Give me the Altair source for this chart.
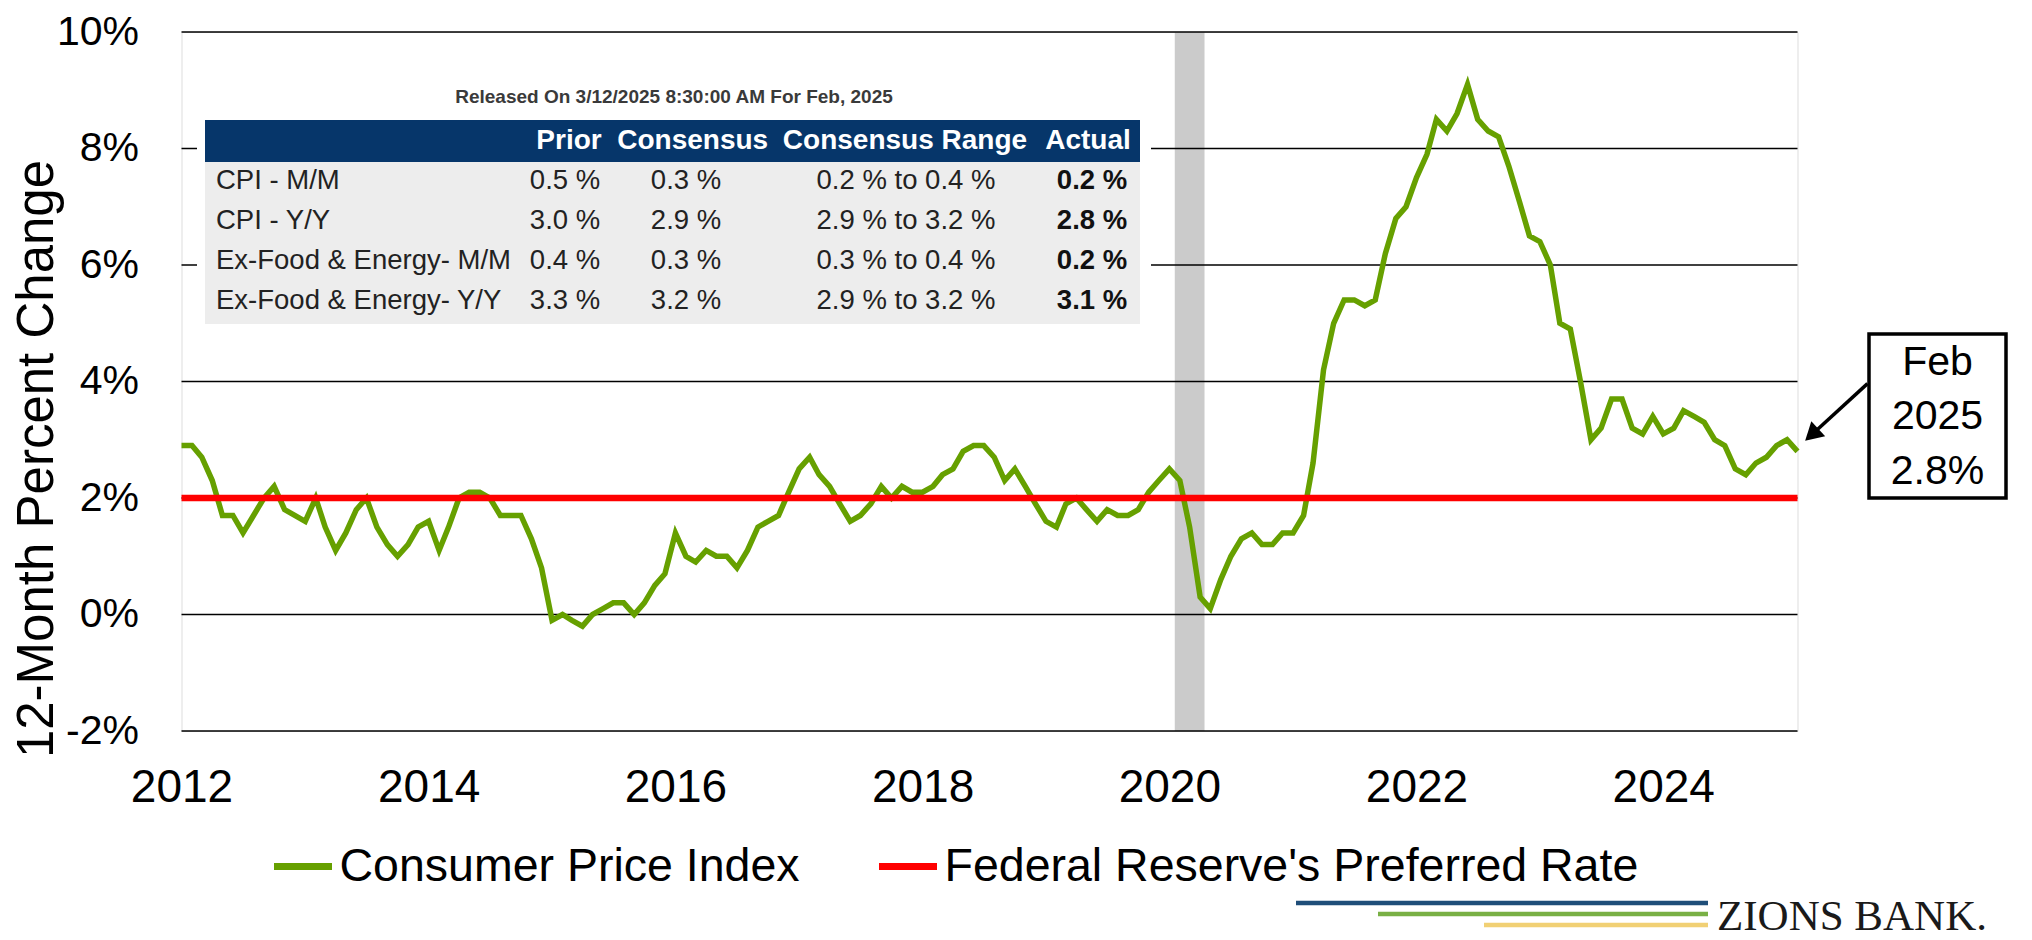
import altair as alt
import pandas as pd

# ---------------- data ----------------
months = pd.date_range("2012-01-01", "2025-02-01", freq="MS").strftime("%Y-%m-%d").tolist()

cpi_2012 = [2.9, 2.9, 2.7, 2.3, 1.7, 1.7, 1.4, 1.7, 2.0, 2.2, 1.8, 1.7]
cpi_2013 = [1.6, 2.0, 1.5, 1.1, 1.4, 1.8, 2.0, 1.5, 1.2, 1.0, 1.2, 1.5]
cpi_2014 = [1.6, 1.1, 1.5, 2.0, 2.1, 2.1, 2.0, 1.7, 1.7, 1.7, 1.3, 0.8]
cpi_2015 = [-0.1, 0.0, -0.1, -0.2, 0.0, 0.1, 0.2, 0.2, 0.0, 0.2, 0.5, 0.7]
cpi_2016 = [1.4, 1.0, 0.9, 1.1, 1.0, 1.0, 0.8, 1.1, 1.5, 1.6, 1.7, 2.1]
cpi_2017 = [2.5, 2.7, 2.4, 2.2, 1.9, 1.6, 1.7, 1.9, 2.2, 2.0, 2.2, 2.1]
cpi_2018 = [2.1, 2.2, 2.4, 2.5, 2.8, 2.9, 2.9, 2.7, 2.3, 2.5, 2.2, 1.9]
cpi_2019 = [1.6, 1.5, 1.9, 2.0, 1.8, 1.6, 1.8, 1.7, 1.7, 1.8, 2.1, 2.3]
cpi_2020 = [2.5, 2.3, 1.5, 0.3, 0.1, 0.6, 1.0, 1.3, 1.4, 1.2, 1.2, 1.4]
cpi_2021 = [1.4, 1.7, 2.6, 4.2, 5.0, 5.4, 5.4, 5.3, 5.4, 6.2, 6.8, 7.0]
cpi_2022 = [7.5, 7.9, 8.5, 8.3, 8.6, 9.1, 8.5, 8.3, 8.2, 7.7, 7.1, 6.5]
cpi_2023 = [6.4, 6.0, 5.0, 4.9, 4.0, 3.0, 3.2, 3.7, 3.7, 3.2, 3.1, 3.4]
cpi_2024 = [3.1, 3.2, 3.5, 3.4, 3.3, 3.0, 2.9, 2.5, 2.4, 2.6, 2.7, 2.9]
cpi_2025 = [3.0, 2.8]
cpi_values = (cpi_2012 + cpi_2013 + cpi_2014 + cpi_2015 + cpi_2016 + cpi_2017 + cpi_2018
              + cpi_2019 + cpi_2020 + cpi_2021 + cpi_2022 + cpi_2023 + cpi_2024 + cpi_2025)

series_names = ["Consumer Price Index", "Federal Reserve's Preferred Rate"]
fed_dates = ["2012-01-01", "2025-02-01"]
fed_values = [2.0, 2.0]

recession_start = ["2020-01-17"]
recession_end = ["2020-04-14"]

y_ticks = [-2, 0, 2, 4, 6, 8, 10]
x_tick_years = [2012, 2014, 2016, 2018, 2020, 2022, 2024]

table_caption = "Released On 3/12/2025 8:30:00 AM For Feb, 2025"
table_headers = ["Prior", "Consensus", "Consensus Range", "Actual"]
table_rows = ["CPI - M/M", "CPI - Y/Y", "Ex-Food & Energy- M/M", "Ex-Food & Energy- Y/Y"]
table_prior = ["0.5 %", "3.0 %", "0.4 %", "3.3 %"]
table_consensus = ["0.3 %", "2.9 %", "0.3 %", "3.2 %"]
table_range = ["0.2 % to 0.4 %", "2.9 % to 3.2 %", "0.3 % to 0.4 %", "2.9 % to 3.2 %"]
table_actual = ["0.2 %", "2.8 %", "0.2 %", "3.1 %"]

callout_lines = ["Feb", "2025", "2.8%"]
logo_text = "ZIONS BANK."
y_title = "12-Month Percent Change"

# ---------------- layout / styling ----------------
FONT = "Liberation Sans"
GREEN = "#66a000"
RED = "#ff0000"
PLOT_LEFT, PLOT_TOP = 181.5, 32      # page position of the plot area
W, H = 1616, 699
TOTAL_W, TOTAL_H = 2010, 932


def px(x):
    return x - PLOT_LEFT


def py(y):
    return y - PLOT_TOP


cpi_df = pd.DataFrame({"date": months, "value": cpi_values, "series": series_names[0]})
fed_df = pd.DataFrame({"date": fed_dates, "value": fed_values, "series": series_names[1]})
rec_df = pd.DataFrame({"start": recession_start, "end": recession_end})
grid_df = pd.DataFrame({"v": y_ticks})

x_scale = alt.Scale(type="utc", nice=False,
                    domain=[alt.DateTime(year=2012, month=1, date=1, utc=True),
                            alt.DateTime(year=2025, month=2, date=1, utc=True)])
y_scale = alt.Scale(domain=[-2, 10], nice=False, zero=False)

x_axis = alt.Axis(values=[alt.DateTime(year=y, month=1, date=1, utc=True) for y in x_tick_years],
                  format="%Y", formatType="utc", grid=False, ticks=False, domain=False,
                  labelFontSize=46, labelPadding=34, labelFlush=False, labelOverlap=False,
                  labelColor="black", labelFont=FONT, title=None)
y_axis = alt.Axis(values=y_ticks, labelExpr="datum.value + '%'", grid=False, ticks=False,
                  domain=False, labelFontSize=41, labelPadding=43, labelColor="black",
                  labelFont=FONT, title=None)

color_scale = alt.Scale(domain=series_names, range=[GREEN, RED])
legend = alt.Legend(orient="none", legendX=89, legendY=802, direction="horizontal", title=None,
                    symbolType="stroke", symbolSize=3364, symbolStrokeWidth=7,
                    labelFontSize=46.5, labelFont=FONT, labelColor="black", labelOffset=4,
                    columnPadding=64, labelLimit=0, padding=0)

one = alt.Data(values=[{"k": 0}])

band = alt.Chart(rec_df).mark_rect(color="#cbcbcb").encode(
    x=alt.X("start:T", scale=x_scale, axis=x_axis),
    x2="end:T",
    y=alt.Y(datum=10, scale=y_scale, axis=y_axis),
    y2=alt.Y2(datum=-2),
)

grid = alt.Chart(grid_df).mark_rule(color="black", strokeWidth=1.6).encode(
    y=alt.Y("v:Q", scale=y_scale, axis=y_axis)
)

cpi_line = alt.Chart(cpi_df).mark_line(strokeWidth=5.5).encode(
    x=alt.X("date:T", scale=x_scale, axis=x_axis),
    y=alt.Y("value:Q", scale=y_scale, axis=y_axis),
    color=alt.Color("series:N", scale=color_scale, legend=legend),
)

fed_line = alt.Chart(fed_df).mark_line(strokeWidth=6.5).encode(
    x=alt.X("date:T", scale=x_scale, axis=x_axis),
    y=alt.Y("value:Q", scale=y_scale, axis=y_axis),
    color=alt.Color("series:N", scale=color_scale, legend=legend),
)


def rect(x, x2, y, y2, **kw):
    return alt.Chart(one).mark_rect(**kw).encode(
        x=alt.value(px(x)), x2=alt.value(px(x2)), y=alt.value(py(y)), y2=alt.value(py(y2)))


def text(s, x, y, **kw):
    params = dict(font=FONT, baseline="middle", color="#222222")
    params.update(kw)
    return alt.Chart(pd.DataFrame({"t": [s]})).mark_text(**params).encode(
        x=alt.value(px(x)), y=alt.value(py(y)), text="t:N")


def hline(x, x2, y, color, width):
    return alt.Chart(one).mark_rule(color=color, strokeWidth=width).encode(
        x=alt.value(px(x)), x2=alt.value(px(x2)), y=alt.value(py(y)), y2=alt.value(py(y)))


layers = [band, grid, cpi_line, fed_line]

# ---- release table (page coordinates) ----
layers.append(rect(197, 1151, 85, 330, color="white"))
layers.append(rect(205, 1140, 120, 162, color="#06366a"))
layers.append(rect(205, 1140, 162, 324, color="#ededed"))
layers.append(text(table_caption, 674, 97, align="center", fontSize=19, fontWeight="bold",
                   color="#3a3a3a"))
head_x = [569, 692.7, 905, 1088]
for hx, h in zip(head_x, table_headers):
    layers.append(text(h, hx, 141, align="center", fontSize=28, fontWeight="bold", color="white"))
val_x = [565, 686, 906, 1092]
row_y = [181, 221, 261, 301]
for i, ry in enumerate(row_y):
    layers.append(text(table_rows[i], 216, ry, align="left", fontSize=27.5))
    layers.append(text(table_prior[i], val_x[0], ry, align="center", fontSize=27.5))
    layers.append(text(table_consensus[i], val_x[1], ry, align="center", fontSize=27.5))
    layers.append(text(table_range[i], val_x[2], ry, align="center", fontSize=27.5))
    layers.append(text(table_actual[i], val_x[3], ry, align="center", fontSize=27.5,
                       fontWeight="bold", color="#111111"))

# ---- y axis title ----
layers.append(text(y_title, 53, 459, align="center", baseline="alphabetic", angle=270,
                   fontSize=51, color="black"))

# ---- callout ----
layers.append(rect(1869, 2006, 334, 498, fill="white", stroke="black", strokeWidth=3.5))
for ly, s in zip([363, 417, 472], callout_lines):
    layers.append(text(s, 1937.5, ly, align="center", fontSize=41, color="black"))
layers.append(alt.Chart(one).mark_rule(color="black", strokeWidth=3.5).encode(
    x=alt.value(px(1867.5)), y=alt.value(py(383.6)), x2=alt.value(px(1812.5)), y2=alt.value(py(434))))
layers.append(alt.Chart(one).mark_point(shape="triangle-up", filled=True, color="black",
                                        size=420, angle=227.5, opacity=1).encode(
    x=alt.value(px(1811.7)), y=alt.value(py(434.8))))

# ---- logo ----
layers.append(hline(1296, 1708, 903, "#1f4e79", 4.5))
layers.append(hline(1378, 1708, 914, "#79b045", 4.5))
layers.append(hline(1484, 1708, 925, "#f1d074", 4.5))
layers.append(text(logo_text, 1717, 930, align="left", baseline="alphabetic",
                   font="Liberation Serif", fontSize=43, color="#1a1a1a"))

pad_left = PLOT_LEFT - 8
pad_top = PLOT_TOP - 8
chart = alt.layer(*layers).properties(
    width=W, height=H,
    autosize=alt.AutoSizeParams(type="none"),
    padding={"left": pad_left, "top": pad_top,
             "right": TOTAL_W - pad_left - W, "bottom": TOTAL_H - pad_top - H},
).configure_view(strokeWidth=0).configure(font=FONT)

chart.save("out.html", embed_options={"renderer": "svg", "actions": False})
